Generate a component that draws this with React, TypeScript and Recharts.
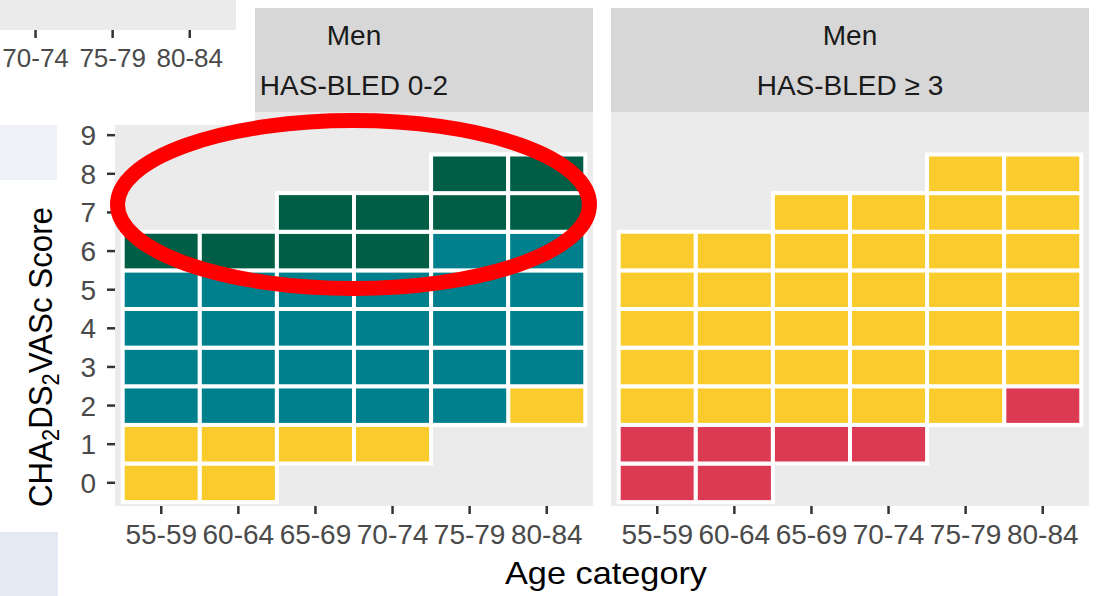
import React from 'react';
import { ScatterChart, Scatter, XAxis, YAxis, CartesianGrid } from 'recharts';

// ---------- data ----------
const AGE_CATEGORIES = ['55-59', '60-64', '65-69', '70-74', '75-79', '80-84'];
const AGE_TICKS = [1, 2, 3, 4, 5, 6];
const FRAGMENT_TICKS = [4, 5, 6]; // only the visible part of the cropped panel above
const SCORE_TICKS = [0, 1, 2, 3, 4, 5, 6, 7, 8, 9];

// Men, HAS-BLED 0-2 : CHA2DS2VASc scores that have a tile, per age category
const LOW_YELLOW = [[0, 1], [0, 1], [1], [1], [], [2]];
const LOW_TEAL = [[2, 3, 4, 5], [2, 3, 4, 5], [2, 3, 4, 5], [2, 3, 4, 5], [2, 3, 4, 5, 6], [3, 4, 5, 6]];
const LOW_GREEN = [[6], [6], [6, 7], [6, 7], [7, 8], [7, 8]];

// Men, HAS-BLED >= 3
const HIGH_RED = [[0, 1], [0, 1], [1], [1], [], [2]];
const HIGH_YELLOW = [[2, 3, 4, 5, 6], [2, 3, 4, 5, 6], [2, 3, 4, 5, 6, 7], [2, 3, 4, 5, 6, 7], [2, 3, 4, 5, 6, 7, 8], [3, 4, 5, 6, 7, 8]];

const STRIP_1 = ['Men', 'HAS-BLED 0-2'];
const STRIP_2 = ['Men', 'HAS-BLED \u2265 3'];

// ---------- style / layout ----------
const YELLOW = '#F9CB2C';
const TEAL = '#00808C';
const GREEN = '#005E46';
const RED = '#DC3A52';
const PANEL_BG = '#EBEBEB';
const STRIP_BG = '#D7D7D7';
const TICK_TEXT = '#4A4A4A';
const TICK_LINE = '#333333';
const FONT = '"Liberation Sans", Arial, Helvetica, sans-serif';

const CHART_H = 596;
const PANEL_TOP = 112;
const X_AXIS_H = 90;
const PLOT_W = 478;
const PLOT_H = CHART_H - PANEL_TOP - X_AXIS_H;
const X_DOMAIN: [number, number] = [0.4, 6.6];
const Y_DOMAIN: [number, number] = [-0.6, 9.6];
const UNIT_W = PLOT_W / (X_DOMAIN[1] - X_DOMAIN[0]);
const UNIT_H = PLOT_H / (Y_DOMAIN[1] - Y_DOMAIN[0]);

const toPoints = (cols: number[][]) =>
  cols.flatMap((scores, i) => scores.map((s) => ({ x: AGE_TICKS[i], y: s })));

const makeTile = (color: string) => (props: any) => {
  const { cx, cy } = props;
  if (cx == null || cy == null) return <g />;
  return (
    <rect
      x={cx - UNIT_W / 2}
      y={cy - UNIT_H / 2}
      width={UNIT_W}
      height={UNIT_H}
      fill={color}
      stroke="#FFFFFF"
      strokeWidth={4}
    />
  );
};

type SeriesDef = { name: string; color: string; cols: number[][] };

const PANEL_1: SeriesDef[] = [
  { name: 'low-yellow', color: YELLOW, cols: LOW_YELLOW },
  { name: 'low-teal', color: TEAL, cols: LOW_TEAL },
  { name: 'low-green', color: GREEN, cols: LOW_GREEN },
];
const PANEL_2: SeriesDef[] = [
  { name: 'high-red', color: RED, cols: HIGH_RED },
  { name: 'high-yellow', color: YELLOW, cols: HIGH_YELLOW },
];

function Panel(props: { left: number; width: number; marginLeft: number; showY: boolean; series: SeriesDef[] }) {
  const { left, width, marginLeft, showY, series } = props;
  return (
    <div style={{ position: 'absolute', left, top: 0 }}>
      <ScatterChart
        width={width}
        height={CHART_H}
        margin={{ top: PANEL_TOP, right: width - marginLeft - (showY ? 115 : 0) - PLOT_W, bottom: 0, left: marginLeft }}
      >
        <CartesianGrid fill={PANEL_BG} stroke="none" horizontal={false} vertical={false} />
        <XAxis
          type="number"
          dataKey="x"
          domain={X_DOMAIN}
          ticks={AGE_TICKS}
          allowDataOverflow
          interval={0}
          height={X_AXIS_H}
          axisLine={false}
          tickSize={8}
          tickMargin={10}
          tickFormatter={(v: number) => AGE_CATEGORIES[v - 1]}
          tick={{ fill: TICK_TEXT, fontSize: 28, fontFamily: FONT }}
          tickLine={{ stroke: TICK_LINE, strokeWidth: 2.5 }}
        />
        <YAxis
          type="number"
          dataKey="y"
          domain={Y_DOMAIN}
          ticks={SCORE_TICKS}
          allowDataOverflow
          interval={0}
          width={115}
          hide={!showY}
          axisLine={false}
          tickSize={8}
          tickMargin={11}
          tick={{ fill: TICK_TEXT, fontSize: 28, fontFamily: FONT }}
          tickLine={{ stroke: TICK_LINE, strokeWidth: 2.5 }}
        />
        {series.map((s) => (
          <Scatter key={s.name} name={s.name} data={toPoints(s.cols)} shape={makeTile(s.color)} isAnimationActive={false} />
        ))}
      </ScatterChart>
    </div>
  );
}

function Strip(props: { left: number; lines: string[] }) {
  return (
    <svg style={{ position: 'absolute', left: props.left, top: 8 }} width={PLOT_W} height={PANEL_TOP - 8}>
      <rect x={0} y={0} width={PLOT_W} height={PANEL_TOP - 8} fill={STRIP_BG} />
      <text x={PLOT_W / 2} y={37} textAnchor="middle" fontSize={28} fontFamily={FONT} fill="#1A1A1A">
        {props.lines[0]}
      </text>
      <text x={PLOT_W / 2} y={87} textAnchor="middle" fontSize={28} fontFamily={FONT} fill="#1A1A1A">
        {props.lines[1]}
      </text>
    </svg>
  );
}

function FragmentPanel() {
  // bottom edge of a panel above (cropped), same age axis
  return (
    <div style={{ position: 'absolute', left: 236 - PLOT_W, top: 30 - 110 }}>
      <ScatterChart width={PLOT_W} height={200} margin={{ top: 0, right: 0, bottom: 0, left: 0 }}>
        <CartesianGrid fill={PANEL_BG} stroke="none" horizontal={false} vertical={false} />
        <XAxis
          type="number"
          dataKey="x"
          domain={X_DOMAIN}
          ticks={FRAGMENT_TICKS}
          allowDataOverflow
          interval={0}
          height={X_AXIS_H}
          axisLine={false}
          tickSize={8}
          tickMargin={11}
          tickFormatter={(v: number) => AGE_CATEGORIES[v - 1]}
          tick={{ fill: TICK_TEXT, fontSize: 26, fontFamily: FONT }}
          tickLine={{ stroke: TICK_LINE, strokeWidth: 2.5 }}
        />
        <YAxis type="number" dataKey="y" domain={Y_DOMAIN} allowDataOverflow hide />
        <Scatter data={[]} isAnimationActive={false} />
      </ScatterChart>
    </div>
  );
}

export default function App() {
  return (
    <div
      style={{
        position: 'absolute',
        left: 0,
        top: 0,
        width: 1096,
        height: 596,
        overflow: 'hidden',
        background: '#FFFFFF',
        fontFamily: FONT,
      }}
    >
      <Strip left={115} lines={STRIP_1} />
      <Strip left={611} lines={STRIP_2} />
      <Panel left={0} width={600} marginLeft={0} showY series={PANEL_1} />
      <Panel left={600} width={496} marginLeft={11} showY={false} series={PANEL_2} />

      {/* cropped neighbouring figure parts */}
      <div style={{ position: 'absolute', left: 0, top: 0, width: 255, height: 125, background: '#FFFFFF' }} />
      <FragmentPanel />
      <div style={{ position: 'absolute', left: 0, top: 125, width: 57, height: 55, background: '#EEF1F8' }} />
      <div style={{ position: 'absolute', left: 0, top: 532, width: 58, height: 64, background: '#E5E9F3' }} />

      <svg style={{ position: 'absolute', left: 0, top: 0, pointerEvents: 'none' }} width={1096} height={596}>
        <text
          x={52}
          y={357}
          transform="rotate(-90 52 357)"
          textAnchor="middle"
          fontSize={33}
          fontFamily={FONT}
          fill="#000000"
          textLength={300}
          lengthAdjust="spacingAndGlyphs"
        >
          CHA<tspan fontSize={23} dy={7}>2</tspan>
          <tspan dy={-7}>DS</tspan>
          <tspan fontSize={23} dy={7}>2</tspan>
          <tspan dy={-7}>VASc Score</tspan>
        </text>
        <text
          x={606}
          y={584}
          textAnchor="middle"
          fontSize={32}
          fontFamily={FONT}
          fill="#000000"
          textLength={202}
          lengthAdjust="spacingAndGlyphs"
        >
          Age category
        </text>
        <ellipse cx={353.5} cy={204.5} rx={236} ry={84} fill="none" stroke="#FF0000" strokeWidth={15} />
      </svg>
    </div>
  );
}
